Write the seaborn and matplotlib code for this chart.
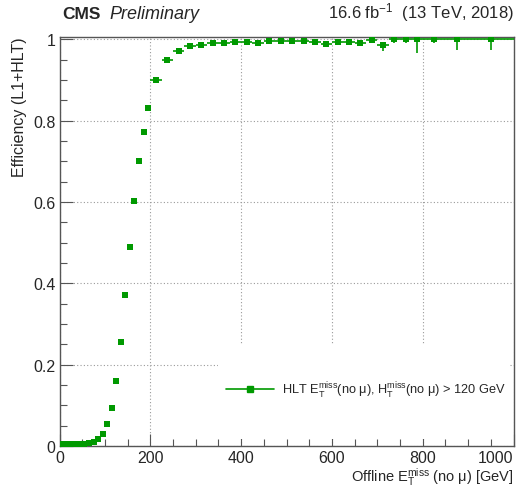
import numpy as np
import pandas as pd
import matplotlib
matplotlib.use("Agg")
import matplotlib.pyplot as plt
import seaborn as sns
from matplotlib.ticker import MultipleLocator, FuncFormatter
from matplotlib.patches import Rectangle

# ---- data ----
met_center = [5, 15, 25, 35, 45, 55, 65, 75, 85, 95, 105, 115, 125, 135, 145,
               155, 165, 175, 185, 195,
               212.5, 237.5, 262.5, 287.5, 312.5, 337.5, 362.5, 387.5, 412.5,
               437.5, 462.5, 487.5, 512.5, 537.5, 562.5, 587.5, 612.5, 637.5,
               662.5, 687.5, 712.5, 737.5, 762.5, 787.5,
               825, 875, 950]
bin_halfwidth = [5] * 20 + [12.5] * 24 + [25, 25, 50]
efficiency = [0.004, 0.004, 0.004, 0.005, 0.005, 0.006, 0.007, 0.0106, 0.018,
              0.030, 0.054, 0.093, 0.159, 0.256, 0.371, 0.489, 0.602, 0.701,
              0.772, 0.831,
              0.900, 0.949, 0.971, 0.984, 0.986, 0.990, 0.992, 0.993, 0.993,
              0.992, 0.995, 0.997, 0.997, 0.995, 0.993, 0.989, 0.994, 0.994,
              0.991, 0.999, 0.985, 1.0, 1.0, 1.0,
              1.0, 1.0, 1.0]
err_low = [0.001] * 7 + [0.002, 0.002, 0.003, 0.004, 0.005, 0.006, 0.007,
                         0.008, 0.008, 0.008, 0.007, 0.007, 0.006,
                         0.006, 0.005, 0.004, 0.003, 0.003, 0.003, 0.003, 0.003,
                         0.003, 0.003, 0.003, 0.003, 0.003, 0.003, 0.003, 0.004,
                         0.004, 0.004, 0.005, 0.004, 0.014, 0.010, 0.008, 0.033,
                         0.009, 0.025, 0.025]
err_high = [0.001] * 7 + [0.002, 0.002, 0.003, 0.004, 0.005, 0.006, 0.007,
                          0.008, 0.008, 0.008, 0.007, 0.007, 0.006,
                          0.006, 0.005, 0.004, 0.003, 0.003, 0.003, 0.003, 0.003,
                          0.003, 0.003, 0.003, 0.002, 0.002, 0.003, 0.003, 0.003,
                          0.003, 0.003, 0.004, 0.001, 0.008, 0.0, 0.0, 0.0,
                          0.0, 0.0, 0.0]
x_ticks = [0, 200, 400, 600, 800, 1000]
y_ticks = [0, 0.2, 0.4, 0.6, 0.8, 1.0]
legend_label = (r"HLT $\mathrm{E}_\mathrm{T}^\mathrm{miss}$(no μ), "
                r"$\mathrm{H}_\mathrm{T}^\mathrm{miss}$(no μ) > 120 GeV")

df = pd.DataFrame({"met": met_center, "eff": efficiency})

# ---- style ----
sns.set_style("ticks")
plt.rcParams["font.family"] = ["Liberation Sans", "DejaVu Sans"]
plt.rcParams["mathtext.fontset"] = "custom"
plt.rcParams["mathtext.rm"] = "Liberation Sans"
plt.rcParams["mathtext.it"] = "Liberation Sans:italic"
plt.rcParams["mathtext.bf"] = "Liberation Sans:bold"

green = "#009900"

fig = plt.figure(figsize=(5.29, 4.89), dpi=100)
ax = fig.add_axes([0.1125, 0.0859, 0.8582, 0.8374])

ax.set_xlim(0, 1000)
ax.set_ylim(0, 1.007)

ax.grid(True, which="major", linestyle=(0, (1, 2)), color="#9a9a9a", linewidth=0.8)
ax.set_axisbelow(True)

# white legend box hiding the grid
ax.add_patch(Rectangle((0.349, 0.017), 0.643, 0.232, transform=ax.transAxes,
                       facecolor="white", edgecolor="none", zorder=1.5))

ax.errorbar(met_center, efficiency, xerr=bin_halfwidth,
            yerr=[err_low, err_high], fmt="none", ecolor=green,
            elinewidth=1.2, capsize=0, zorder=3)
sns.scatterplot(data=df, x="met", y="eff", marker="s", color=green, s=20,
                edgecolor=green, linewidth=0, ax=ax, zorder=4, legend=False)

# legend
ax.plot([], [], color=green, marker="s", markersize=4.5, linewidth=1.2,
        label=legend_label)
ax.legend(loc="center left", bbox_to_anchor=(0.355, 0.137), frameon=False,
          fontsize=9.2, handlelength=3.8, borderaxespad=0, handletextpad=0.6)

# ticks
ax.set_xticks(x_ticks)
ax.set_yticks(y_ticks)
ax.xaxis.set_minor_locator(MultipleLocator(50))
ax.yaxis.set_minor_locator(MultipleLocator(0.05))
fmt = FuncFormatter(lambda v, p: "%g" % v)
ax.xaxis.set_major_formatter(fmt)
ax.yaxis.set_major_formatter(fmt)
ax.tick_params(axis="both", which="major", direction="in", length=9,
               width=0.8, labelsize=11.5, color="#555555", pad=3)
ax.tick_params(axis="both", which="minor", direction="in", length=5,
               width=0.8, color="#555555")
ax.get_xticklabels()[-1].set_horizontalalignment("right")
for s in ax.spines.values():
    s.set_color("#555555")
    s.set_linewidth(1.0)

ax.set_xlabel(r"Offline $\mathrm{E}_\mathrm{T}^\mathrm{miss}$ (no μ) [GeV]",
              fontsize=10.5, loc="right", labelpad=0)
ax.set_ylabel("Efficiency (L1+HLT)", fontsize=11.5, loc="top", labelpad=4)

fig.text(0.117, 0.962, "CMS", fontsize=12.5, fontweight="bold", va="baseline")
fig.text(0.207, 0.962, "Preliminary", fontsize=13, style="italic", va="baseline")
fig.text(0.971, 0.962, r"16.6 fb$^{-1}$  (13 TeV, 2018)", fontsize=12,
         ha="right", va="baseline")

fig.savefig("out.png", dpi=100)
